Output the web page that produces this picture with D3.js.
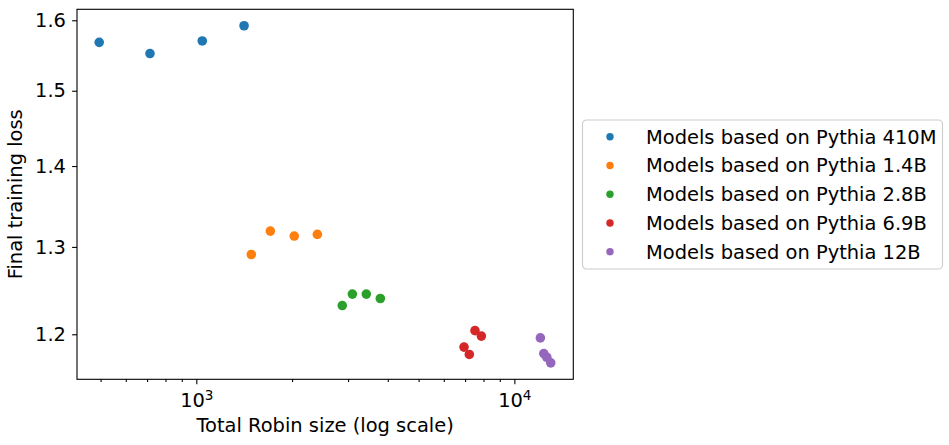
<!DOCTYPE html>
<html>
<head>
<meta charset="utf-8">
<script src="https://cdn.jsdelivr.net/npm/d3@7"></script>
<style>
  body { margin: 0; background: #fff; }
  svg { display: block; font-family: "DejaVu Sans", sans-serif; }
</style>
</head>
<body>
<svg id="chart" width="949" height="445"></svg>
<script>
// Series labels and colours (matplotlib tab10)
const seriesNames = [
  'Models based on Pythia 410M',
  'Models based on Pythia 1.4B',
  'Models based on Pythia 2.8B',
  'Models based on Pythia 6.9B',
  'Models based on Pythia 12B'
];
const seriesColors = ['#1f77b4', '#ff7f0e', '#2ca02c', '#d62728', '#9467bd'];

// Total Robin size (x) and final training loss (y)
const robin410M = [495, 715, 1044, 1413];
const loss410M  = [1.568, 1.552, 1.570, 1.592];

const robin1_4B = [1489, 1709, 2032, 2402];
const loss1_4B  = [1.291, 1.319, 1.313, 1.315];

const robin2_8B = [2877, 3095, 3424, 3790];
const loss2_8B  = [1.232, 1.245, 1.245, 1.240];

const robin6_9B = [6947, 7218, 7521, 7875];
const loss6_9B  = [1.186, 1.178, 1.204, 1.198];

const robin12B = [12073, 12377, 12648, 13016];
const loss12B  = [1.196, 1.179, 1.175, 1.169];

// Axis ticks
const xMajorTicks = [1000, 10000];
const xMinorTicks = [500, 600, 700, 800, 900, 2000, 3000, 4000, 5000, 6000, 7000, 8000, 9000];
const yTicks = [1.2, 1.3, 1.4, 1.5, 1.6];

const xDomain = [421.5, 15325];
const yDomain = [1.1515, 1.6162];

const seriesX = [robin410M, robin1_4B, robin2_8B, robin6_9B, robin12B];
const seriesY = [loss410M, loss1_4B, loss2_8B, loss6_9B, loss12B];

const series = seriesNames.map((name, i) => ({
  name,
  color: seriesColors[i],
  points: seriesX[i].map((x, j) => ({ x, y: seriesY[i][j] }))
}));

// Layout
const margin = { top: 9.3, left: 77, right: 949 - 573.3, bottom: 445 - 379.3 };
const width = 949 - margin.left - margin.right;
const height = 445 - margin.top - margin.bottom;
const fontSize = 19.44;

const svg = d3.select('#chart');
const g = svg.append('g')
  .attr('transform', `translate(${margin.left},${margin.top})`);

// Scales (log on both axes)
const xScale = d3.scaleLog().domain(xDomain).range([0, width]);
const yScale = d3.scaleLog().domain(yDomain).range([height, 0]);

// Points
series.forEach(s => {
  g.append('g')
    .attr('class', 'points')
    .selectAll('circle')
    .data(s.points)
    .enter()
    .append('circle')
    .attr('cx', d => xScale(d.x))
    .attr('cy', d => yScale(d.y))
    .attr('r', 4.8)
    .attr('fill', s.color);
});

// X axis: minor ticks first, then labelled major ticks
const xMinorAxis = d3.axisBottom(xScale)
  .tickValues(xMinorTicks)
  .tickSize(2.8)
  .tickFormat('');

g.append('g')
  .attr('class', 'x-axis-minor')
  .attr('transform', `translate(0,${height})`)
  .call(xMinorAxis)
  .call(sel => sel.select('.domain').remove());

const xAxis = d3.axisBottom(xScale)
  .tickValues(xMajorTicks)
  .tickSize(4.9)
  .tickPadding(9)
  .tickFormat(d => '');

const xAxisGroup = g.append('g')
  .attr('class', 'x-axis')
  .attr('transform', `translate(0,${height})`)
  .call(xAxis);

xAxisGroup.selectAll('.domain').remove();

// "10" with the exponent as a superscript
xAxisGroup.selectAll('.tick text')
  .each(function(d) {
    const t = d3.select(this);
    t.text('10');
    t.append('tspan')
      .attr('dy', '-0.5em')
      .style('font-size', `${fontSize * 0.7}px`)
      .text(Math.round(Math.log10(d)));
  });

// Y axis
const yAxis = d3.axisLeft(yScale)
  .tickValues(yTicks)
  .tickSize(4.9)
  .tickPadding(6.1)
  .tickFormat(d3.format('.1f'));

const yAxisGroup = g.append('g')
  .attr('class', 'y-axis')
  .call(yAxis);

yAxisGroup.selectAll('.domain').remove();

// Style axis text and ticks
g.selectAll('.x-axis text, .y-axis text')
  .style('font-family', '"DejaVu Sans", sans-serif')
  .style('font-size', `${fontSize}px`)
  .style('fill', '#000');

g.selectAll('.x-axis line, .y-axis line, .x-axis-minor line')
  .style('stroke', '#000')
  .style('stroke-width', 1.1);

// Frame
g.append('rect')
  .attr('x', 0)
  .attr('y', 0)
  .attr('width', width)
  .attr('height', height)
  .attr('fill', 'none')
  .attr('stroke', '#000')
  .attr('stroke-width', 1.1);

// Axis labels
svg.append('text')
  .attr('x', margin.left + width / 2)
  .attr('y', 432)
  .attr('text-anchor', 'middle')
  .style('font-size', `${fontSize}px`)
  .text('Total Robin size (log scale)');

svg.append('text')
  .attr('transform', `translate(22,${margin.top + height / 2}) rotate(-90)`)
  .attr('text-anchor', 'middle')
  .style('font-size', `${fontSize}px`)
  .text('Final training loss');

// Legend
const legend = svg.append('g')
  .attr('class', 'legend')
  .attr('transform', 'translate(582.5,120)');

legend.append('rect')
  .attr('width', 360)
  .attr('height', 149)
  .attr('rx', 4)
  .attr('fill', '#fff')
  .attr('stroke', '#cccccc')
  .attr('stroke-width', 1.1);

const rowHeight = 28.75;

const items = legend.selectAll('.legend-item')
  .data(series)
  .enter()
  .append('g')
  .attr('class', 'legend-item')
  .attr('transform', (d, i) => `translate(0,${16.7 + i * rowHeight})`);

items.append('circle')
  .attr('cx', 27.5)
  .attr('cy', 0)
  .attr('r', 3.7)
  .attr('fill', d => d.color);

items.append('text')
  .attr('x', 63.5)
  .attr('dy', '0.35em')
  .style('font-size', `${fontSize}px`)
  .text(d => d.name);
</script>
</body>
</html>
